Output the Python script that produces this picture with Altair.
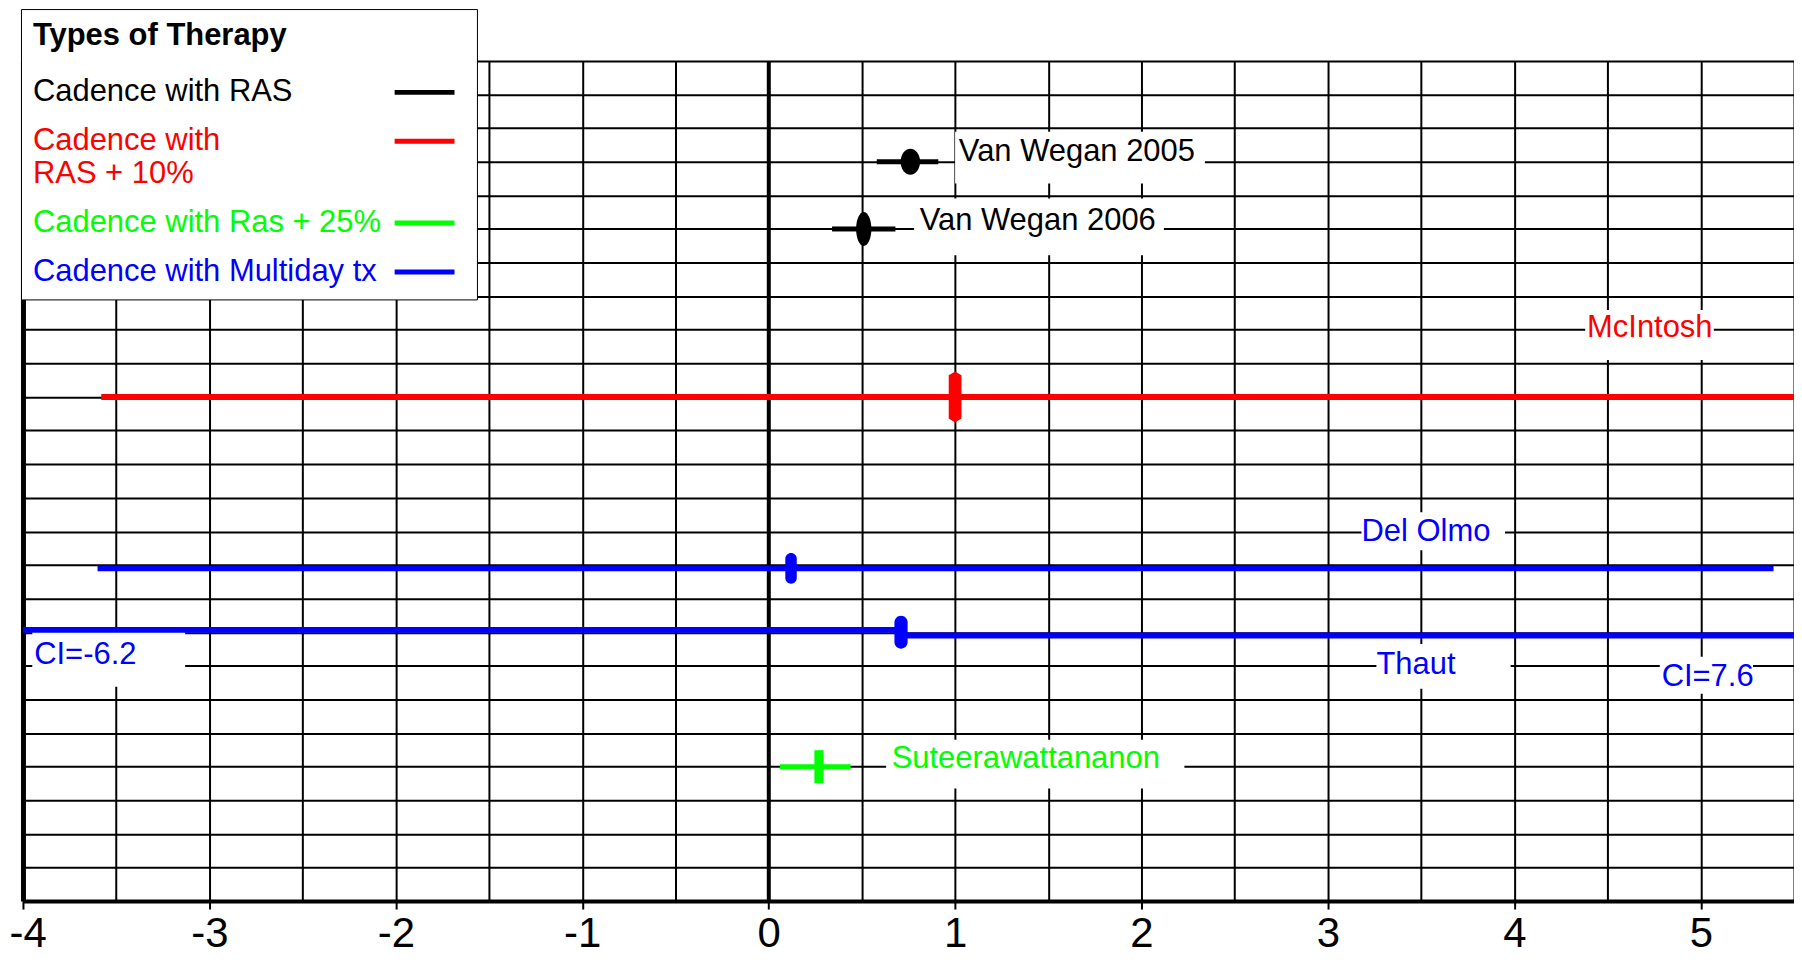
import altair as alt
import pandas as pd

# ---------------- data ----------------
studies = ["Van Wegan 2005", "Van Wegan 2006", "McIntosh", "Del Olmo", "Thaut", "Suteerawattananon"]
study_therapy = ["Cadence with RAS", "Cadence with RAS", "Cadence with RAS + 10%",
                 "Cadence with Multiday tx", "Cadence with Multiday tx", "Cadence with Ras + 25%"]
estimate = [0.76, 0.51, 1.00, 0.12, 0.71, 0.27]
ci_low = [0.58, 0.34, -3.58, -3.60, -6.2, 0.06]
ci_high = [0.91, 0.68, 5.60, 5.39, 7.6, 0.44]
row = [22, 20, 15, 9.9, 8.0, 4]
row_low_arm = [22, 20, 15, 9.9, 8.07, 4]
row_high_arm = [22, 20, 15, 9.9, 7.9, 4]

therapies = ["Cadence with RAS", "Cadence with RAS + 10%", "Cadence with Ras + 25%", "Cadence with Multiday tx"]
therapy_colors = ["#000000", "#ff0000", "#00ff00", "#0000ff"]

label_text = ["Van Wegan 2005", "Van Wegan 2006", "McIntosh", "Del Olmo", "Thaut",
              "Suteerawattananon", "CI=-6.2", "CI=7.6"]
label_therapy = ["Cadence with RAS", "Cadence with RAS", "Cadence with RAS + 10%",
                 "Cadence with Multiday tx", "Cadence with Multiday tx", "Cadence with Ras + 25%",
                 "Cadence with Multiday tx", "Cadence with Multiday tx"]
label_x = [1.02, 0.81, 4.39, 3.18, 3.26, 0.66, -3.94, 4.79]
label_y = [22.3, 20.23, 17.05, 10.97, 7.03, 4.24, 7.33, 6.67]
box_x1 = [1.00, 0.78, 4.38, 3.18, 3.26, 0.63, -3.95, 4.78]
box_x2 = [2.34, 2.12, 5.07, 3.95, 3.98, 2.23, -3.13, 5.28]
box_y1 = [21.35, 19.22, 16.10, 10.44, 6.32, 3.35, 6.38, 6.17]
box_y2 = [22.89, 20.91, 17.59, 11.57, 7.65, 4.80, 8.05, 7.27]

x_ticks = [-4 + 0.5 * i for i in range(20)]
y_ticks = list(range(0, 26))

# ---------------- styles (kept apart from data) ----------------
def capsule(r):
    a = 1 - r
    return f"M{-r},{-a}A{r},{r} 0 0,1 {r},{-a}L{r},{a}A{r},{r} 0 0,1 {-r},{a}Z"

def ellipse(r):
    return f"M0,-1A{r},1 0 1,1 0,1A{r},1 0 1,1 0,-1Z"

MARKER = {
    "Van Wegan 2005": (ellipse(0.75), 676),
    "Van Wegan 2006": (ellipse(0.45), 1156),
    "McIntosh": ("M0,-1L0.25,-0.85L0.25,0.85L0,1L-0.25,0.85L-0.25,-0.85Z", 2601),
    "Del Olmo": (capsule(0.37), 961),
    "Thaut": (capsule(0.4), 1089),
    "Suteerawattananon": ("M-0.28,-1H0.28V1H-0.28Z", 1089),
}
LINE_W = {"Cadence with RAS": 5, "Cadence with RAS + 10%": 6,
          "Cadence with Ras + 25%": 5, "Cadence with Multiday tx": 6}

FONT = "Liberation Sans"

# ---------------- tables ----------------
seg_rows = []
for s, t, e, lo, hi, rl, rh in zip(studies, study_therapy, estimate, ci_low, ci_high, row_low_arm, row_high_arm):
    seg_rows.append({"study": s, "therapy": t, "start": lo, "end": e, "row": rl})
    seg_rows.append({"study": s, "therapy": t, "start": e, "end": hi, "row": rh})
seg_df = pd.DataFrame(seg_rows)
seg_df["lw"] = seg_df["therapy"].map(LINE_W)

pt_df = pd.DataFrame({"study": studies, "therapy": study_therapy, "estimate": estimate, "row": row})
pt_df["shape"] = [MARKER[s][0] for s in studies]
pt_df["msize"] = [MARKER[s][1] for s in studies]

lab_df = pd.DataFrame({"text": label_text, "therapy": label_therapy, "x": label_x, "y": label_y})
box_df = pd.DataFrame({"x1": box_x1, "x2": box_x2, "y1": box_y1, "y2": box_y2})

# ---------------- scales / axes ----------------
xscale = alt.Scale(domain=[-4, 5.5], nice=False, zero=False)
yscale = alt.Scale(domain=[0, 25], nice=False, zero=False)
cscale = alt.Scale(domain=therapies, range=therapy_colors)

xaxis = alt.Axis(
    values=x_ticks, title=None, grid=True, gridColor="#000000",
    gridWidth={"condition": {"test": "datum.value === 0", "value": 4}, "value": 2},
    tickOpacity={"condition": {"test": "datum.value % 1 === 0", "value": 1}, "value": 0},
    tickColor="#000000", tickWidth=2, tickSize=8,
    domainColor="#000000", domainWidth=4,
    labelExpr="datum.value % 1 === 0 ? '' + datum.value : ''",
    labelFont=FONT, labelFontSize=42, labelColor="#000000", labelPadding=5,
    labelFlush=True, labelFlushOffset=14, labelOverlap=False,
)
yaxis = alt.Axis(
    values=y_ticks, title=None, grid=True, gridColor="#000000", gridWidth=2,
    labels=False, ticks=False, domainColor="#000000", domainWidth=5,
)

def X(field):
    return alt.X(field, type="quantitative", scale=xscale, axis=xaxis)

def Y(field):
    return alt.Y(field, type="quantitative", scale=yscale, axis=yaxis)

color_expr = " : ".join(
    f"datum.value === '{t}' ? '{c}'" for t, c in zip(therapies, therapy_colors)
) + " : 'black'"
label_expr = ("datum.label === 'Cadence with RAS + 10%' ? "
              "['Cadence with', 'RAS + 10%'] : datum.label")

SYM_LEN = 60
SYM_OFF = 360
legend_kw = dict(
    title="Types of Therapy", orient="none", legendX=-2, legendY=-52,
    direction="vertical", fillColor="white", strokeColor="black", padding=12,
    titleFont=FONT, titleFontSize=31, titleFontWeight="bold", titleColor="black",
    titlePadding=8, titleLimit=420,
    labelFont=FONT, labelFontSize=31, labelLimit=420,
    labelOffset={"expr": str(-(SYM_OFF + SYM_LEN + 5))},
    labelColor={"expr": color_expr}, labelExpr=label_expr,
    symbolType="stroke", symbolSize=SYM_LEN * SYM_LEN, symbolStrokeWidth=5,
    symbolOffset=SYM_OFF, rowPadding=1,
)
try:
    legend = alt.Legend(encode={"title": {"dx": {"value": 12}}}, **legend_kw)
except Exception:
    legend = alt.Legend(**legend_kw)

# ---------------- layers ----------------
boxes = alt.Chart(box_df).mark_rect(color="white", strokeWidth=0).encode(
    x=X("x1"), x2="x2", y=Y("y1"), y2="y2"
)

rules = alt.Chart(seg_df).mark_rule(clip=True).encode(
    x=X("start"), x2="end", y=Y("row"),
    color=alt.Color("therapy:N", scale=cscale, legend=legend),
    strokeWidth=alt.StrokeWidth("lw:Q", scale=None, legend=None),
)

points = alt.Chart(pt_df).mark_point(filled=True, opacity=1, strokeWidth=0).encode(
    x=X("estimate"), y=Y("row"),
    fill=alt.Fill("therapy:N", scale=cscale, legend=None),
    shape=alt.Shape("shape:N", scale=None, legend=None),
    size=alt.Size("msize:Q", scale=None, legend=None),
)

texts = alt.Chart(lab_df).mark_text(align="left", baseline="middle", font=FONT, fontSize=31).encode(
    x=X("x"), y=Y("y"), text="text:N",
    fill=alt.Fill("therapy:N", scale=cscale, legend=None),
)

chart = alt.layer(boxes, rules, points, texts).properties(
    width=1775, height=842,
    autosize=alt.AutoSizeParams(type="none"),
    padding={"left": 15, "top": 52, "right": 0, "bottom": 56},
    background="white",
).configure_view(stroke="black", strokeWidth=4).configure_legend(strokeWidth=4).configure(font=FONT)

chart.save("out.html", embed_options={"renderer": "svg", "actions": False})
